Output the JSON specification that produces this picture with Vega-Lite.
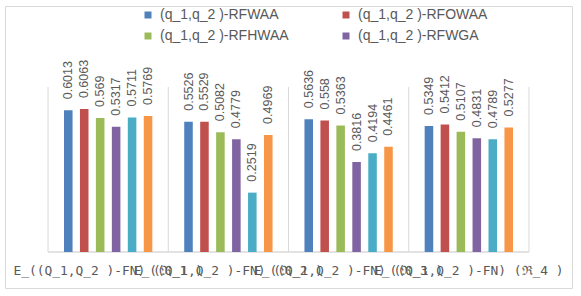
{
  "$schema": "https://vega.github.io/schema/vega-lite/v6.json",
  "autosize": {"type": "none"},
  "padding": {"left": 5, "top": 6, "right": 9, "bottom": 8},
  "width": 567,
  "height": 282,
  "background": "white",
  "config": {
    "view": {"stroke": "#d9d9d9", "strokeWidth": 1},
    "font": "Liberation Sans"
  },
  "data": {
    "values": [
      {"group": "E_((Q_1,Q_2 )-FN) (ℜ_1 )", "series": "(q_1,q_2 )-RFWAA", "value": 0.6013},
      {"group": "E_((Q_1,Q_2 )-FN) (ℜ_1 )", "series": "(q_1,q_2 )-RFOWAA", "value": 0.6063},
      {"group": "E_((Q_1,Q_2 )-FN) (ℜ_1 )", "series": "(q_1,q_2 )-RFHWAA", "value": 0.569},
      {"group": "E_((Q_1,Q_2 )-FN) (ℜ_1 )", "series": "(q_1,q_2 )-RFWGA", "value": 0.5317},
      {"group": "E_((Q_1,Q_2 )-FN) (ℜ_1 )", "series": "(q_1,q_2 )-RFOWGA", "value": 0.5711},
      {"group": "E_((Q_1,Q_2 )-FN) (ℜ_1 )", "series": "(q_1,q_2 )-RFHWGA", "value": 0.5769},
      {"group": "E_((Q_1,Q_2 )-FN) (ℜ_2 )", "series": "(q_1,q_2 )-RFWAA", "value": 0.5526},
      {"group": "E_((Q_1,Q_2 )-FN) (ℜ_2 )", "series": "(q_1,q_2 )-RFOWAA", "value": 0.5529},
      {"group": "E_((Q_1,Q_2 )-FN) (ℜ_2 )", "series": "(q_1,q_2 )-RFHWAA", "value": 0.5082},
      {"group": "E_((Q_1,Q_2 )-FN) (ℜ_2 )", "series": "(q_1,q_2 )-RFWGA", "value": 0.4779},
      {"group": "E_((Q_1,Q_2 )-FN) (ℜ_2 )", "series": "(q_1,q_2 )-RFOWGA", "value": 0.2519},
      {"group": "E_((Q_1,Q_2 )-FN) (ℜ_2 )", "series": "(q_1,q_2 )-RFHWGA", "value": 0.4969},
      {"group": "E_((Q_1,Q_2 )-FN) (ℜ_3 )", "series": "(q_1,q_2 )-RFWAA", "value": 0.5636},
      {"group": "E_((Q_1,Q_2 )-FN) (ℜ_3 )", "series": "(q_1,q_2 )-RFOWAA", "value": 0.558},
      {"group": "E_((Q_1,Q_2 )-FN) (ℜ_3 )", "series": "(q_1,q_2 )-RFHWAA", "value": 0.5363},
      {"group": "E_((Q_1,Q_2 )-FN) (ℜ_3 )", "series": "(q_1,q_2 )-RFWGA", "value": 0.3816},
      {"group": "E_((Q_1,Q_2 )-FN) (ℜ_3 )", "series": "(q_1,q_2 )-RFOWGA", "value": 0.4194},
      {"group": "E_((Q_1,Q_2 )-FN) (ℜ_3 )", "series": "(q_1,q_2 )-RFHWGA", "value": 0.4461},
      {"group": "E_((Q_1,Q_2 )-FN) (ℜ_4 )", "series": "(q_1,q_2 )-RFWAA", "value": 0.5349},
      {"group": "E_((Q_1,Q_2 )-FN) (ℜ_4 )", "series": "(q_1,q_2 )-RFOWAA", "value": 0.5412},
      {"group": "E_((Q_1,Q_2 )-FN) (ℜ_4 )", "series": "(q_1,q_2 )-RFHWAA", "value": 0.5107},
      {"group": "E_((Q_1,Q_2 )-FN) (ℜ_4 )", "series": "(q_1,q_2 )-RFWGA", "value": 0.4831},
      {"group": "E_((Q_1,Q_2 )-FN) (ℜ_4 )", "series": "(q_1,q_2 )-RFOWGA", "value": 0.4789},
      {"group": "E_((Q_1,Q_2 )-FN) (ℜ_4 )", "series": "(q_1,q_2 )-RFHWGA", "value": 0.5277}
    ]
  },
  "encoding": {
    "x": {
      "field": "group",
      "type": "nominal",
      "sort": null,
      "axis": null,
      "scale": {"paddingInner": 0, "paddingOuter": 0.358}
    }
  },
  "layer": [
    {
      "transform": [{"filter": "datum.series === '(q_1,q_2 )-RFWAA'"}],
      "mark": {"type": "rule", "color": "#d9d9d9", "strokeWidth": 1},
      "encoding": {
        "x": {"field": "group", "type": "nominal", "sort": null, "axis": null, "bandPosition": 0},
        "y": {"datum": 0, "type": "quantitative", "axis": null, "scale": {"domain": [-0.1527, 1.0437], "nice": false, "zero": false}},
        "y2": {"datum": 0.7}
      }
    },
    {
      "transform": [{"filter": "datum.series === '(q_1,q_2 )-RFWAA' && datum.group === 'E_((Q_1,Q_2 )-FN) (ℜ_4 )'"}],
      "mark": {"type": "rule", "color": "#d9d9d9", "strokeWidth": 1},
      "encoding": {
        "x": {"field": "group", "type": "nominal", "sort": null, "axis": null, "bandPosition": 1},
        "y": {"datum": 0, "type": "quantitative", "axis": null, "scale": {"domain": [-0.1527, 1.0437], "nice": false, "zero": false}},
        "y2": {"datum": 0.7}
      }
    },
    {
      "transform": [{"filter": "datum.series === '(q_1,q_2 )-RFWAA'"}],
      "mark": {"type": "rect", "fill": null, "stroke": "#d9d9d9", "strokeWidth": 1},
      "encoding": {
        "y": {"datum": 0, "type": "quantitative", "axis": null, "scale": {"domain": [-0.1527, 1.0437], "nice": false, "zero": false}},
        "y2": {"datum": 0}
      }
    },
    {
      "mark": {"type": "bar"},
      "encoding": {
        "xOffset": {
          "field": "series",
          "type": "nominal",
          "sort": null,
          "scale": {"paddingInner": 0.464, "paddingOuter": 1.16}
        },
        "y": {"field": "value", "type": "quantitative", "axis": null, "scale": {"domain": [-0.1527, 1.0437], "nice": false, "zero": false}},
        "y2": {"datum": 0},
        "color": {
          "field": "series",
          "type": "nominal",
          "sort": null,
          "scale": {
            "domain": ["(q_1,q_2 )-RFWAA", "(q_1,q_2 )-RFOWAA", "(q_1,q_2 )-RFHWAA", "(q_1,q_2 )-RFWGA", "(q_1,q_2 )-RFOWGA", "(q_1,q_2 )-RFHWGA"],
            "range": ["#4F81BD", "#C0504D", "#9BBB59", "#8064A2", "#4BACC6", "#F79646"]
          },
          "legend": {
            "title": null,
            "orient": "none",
            "legendX": 136,
            "legendY": 2,
            "direction": "horizontal",
            "columns": 2,
            "values": ["(q_1,q_2 )-RFWAA", "(q_1,q_2 )-RFOWAA", "(q_1,q_2 )-RFHWAA", "(q_1,q_2 )-RFWGA"],
            "symbolType": "square",
            "symbolSize": 49,
            "symbolStrokeWidth": 0,
            "labelFont": "Liberation Sans",
            "labelFontSize": 14,
            "labelColor": "#595959",
            "labelOffset": 5,
            "columnPadding": 50,
            "rowPadding": 7,
            "padding": 0,
            "labelLimit": 300
          }
        }
      }
    },
    {
      "mark": {"type": "text", "angle": 270, "align": "left", "baseline": "middle", "dx": 11, "fontSize": 12.5, "color": "#595959", "font": "Liberation Sans"},
      "encoding": {
        "xOffset": {
          "field": "series",
          "type": "nominal",
          "sort": null,
          "scale": {"paddingInner": 0.464, "paddingOuter": 1.16}
        },
        "y": {"field": "value", "type": "quantitative", "axis": null, "scale": {"domain": [-0.1527, 1.0437], "nice": false, "zero": false}},
        "text": {"field": "value", "type": "nominal"}
      }
    },
    {
      "transform": [{"filter": "datum.series === '(q_1,q_2 )-RFWAA'"}],
      "mark": {"type": "text", "align": "center", "baseline": "middle", "fontSize": 12.9, "color": "#595959", "font": "DejaVu Sans Mono"},
      "encoding": {
        "y": {"datum": -0.0806, "type": "quantitative", "axis": null, "scale": {"domain": [-0.1527, 1.0437], "nice": false, "zero": false}},
        "text": {"field": "group", "type": "nominal"}
      }
    }
  ]
}
